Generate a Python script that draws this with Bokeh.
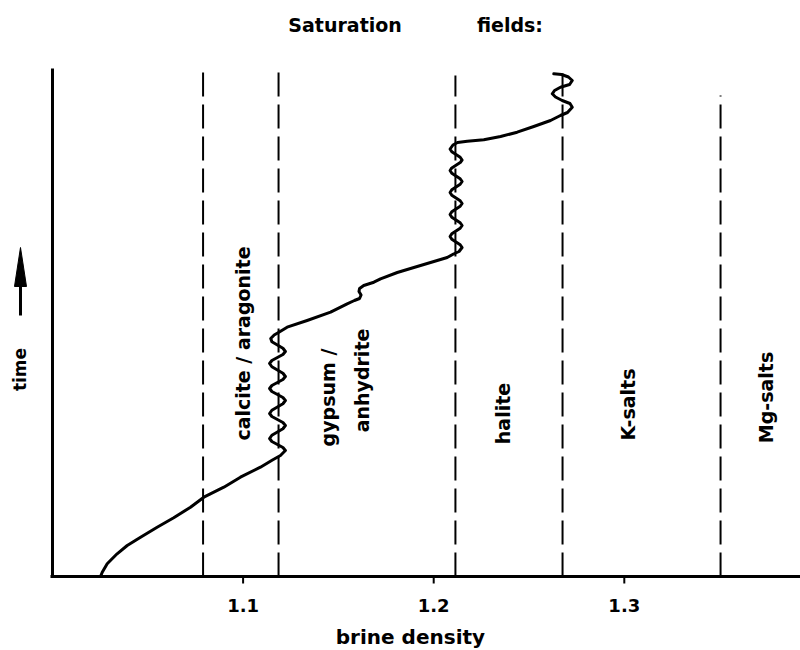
import math
from bokeh.plotting import figure
from bokeh.models import Range1d
from bokeh.core.properties import value
from bokeh.embed import file_html
from bokeh.resources import INLINE

# ---- data ----
# brine evolution curve: density vs. (relative) time
density = [
    1.0252, 1.0261, 1.0287, 1.0339, 1.0392, 1.0462, 1.0549, 1.0636, 1.0724, 1.0794,
    1.0899, 1.0986, 1.1091, 1.1154, 1.1196,
    1.1222, 1.1209, 1.1180, 1.1151, 1.1139, 1.1151, 1.1180, 1.1209,
    1.1222, 1.1209, 1.1180, 1.1151, 1.1139, 1.1151, 1.1180, 1.1209,
    1.1222, 1.1209, 1.1180, 1.1151, 1.1139, 1.1151, 1.1180, 1.1209,
    1.1222, 1.1209, 1.1180, 1.1151, 1.1139, 1.1151, 1.1180, 1.1209,
    1.1222, 1.1209, 1.1180, 1.1151, 1.1145,
    1.1163, 1.1190, 1.1231, 1.1336, 1.1459, 1.1546, 1.1584, 1.1611, 1.1619, 1.1608,
    1.1611, 1.1633, 1.1686, 1.1721, 1.1809, 1.1896, 1.2001, 1.2071, 1.2104, 1.2133,
    1.2149, 1.2139, 1.2117, 1.2095, 1.2086, 1.2095, 1.2117, 1.2139,
    1.2149, 1.2139, 1.2117, 1.2095, 1.2086, 1.2095, 1.2117, 1.2139,
    1.2149, 1.2139, 1.2117, 1.2095, 1.2086, 1.2095, 1.2117, 1.2139,
    1.2149, 1.2139, 1.2117, 1.2095, 1.2086, 1.2095, 1.2117, 1.2139,
    1.2149, 1.2139, 1.2117, 1.2095, 1.2086,
    1.2101, 1.2125, 1.2176, 1.2263, 1.2351, 1.2438, 1.2525, 1.2613, 1.2665,
    1.2702, 1.2727, 1.2715, 1.2674, 1.2639, 1.2622, 1.2634, 1.2665, 1.2713, 1.2727,
    1.2707, 1.2671, 1.2630,
]
time = [
    0, 4.3, 12.7, 22.7, 31, 39.3, 49.3, 58.7, 69.3, 79.3,
    89.3, 99.3, 109.3, 116.5, 121,
    126, 129, 132, 135, 138, 141.25, 144.5, 147.75,
    151, 154, 157, 160, 163, 166.25, 169.5, 172.75,
    176, 179, 182, 185, 188, 191, 194, 197,
    200, 203.25, 206.5, 209.75, 213, 216, 219, 222,
    225, 228.25, 231.5, 234.75, 238,
    241.5, 244.5, 249.3, 256, 264.3, 272.7, 276, 278, 281.5, 285,
    288, 291, 294.3, 297.7, 304, 309, 315, 319, 322.5, 325,
    329, 331.75, 334.5, 337.25, 340, 342.75, 345.5, 348.25,
    351, 353.75, 356.5, 359.25, 362, 364.75, 367.5, 370.25,
    373, 375.75, 378.5, 381.25, 384, 386.75, 389.5, 392.25,
    395, 397.75, 400.5, 403.25, 406, 408.6, 411.25, 413.9,
    416.5, 419.25, 422, 424.75, 427.5,
    431.5, 434, 435.3, 436.7, 440, 444.3, 450, 456, 461,
    464, 469.3, 473, 476, 479.5, 482.7, 486, 489.3, 492, 496,
    499.5, 502, 502.7,
]

# saturation-field boundaries (density) and how high each dashed line reaches
boundaries = [1.079, 1.1186, 1.2114, 1.2676, 1.3505]
boundary_tops = [508, 508, 501, 503, 481]

# field names
zone_names = ["calcite / aragonite", "gypsum /", "anhydrite", "halite", "K-salts", "Mg-salts"]

tick_values = [1.1, 1.2, 1.3]
tick_labels = ["1.1", "1.2", "1.3"]

title_words = ["Saturation", "fields:"]
x_title = "brine density"
y_title = "time"

# ---- layout constants (not data) ----
D_MIN, D_MAX = 0.972718, 1.392446      # visible density span
T_MIN, T_MAX = -74, 576                # visible time span (margins included)
T_TOP = 508                            # top of the time axis
PX_X = (D_MAX - D_MIN) / 800.0         # density per pixel
FONT = "DejaVu Sans"

p = figure(width=800, height=650, output_backend="svg", toolbar_location=None,
           x_range=Range1d(D_MIN, D_MAX), y_range=Range1d(T_MIN, T_MAX),
           min_border=0, min_border_left=0, min_border_right=0,
           min_border_top=0, min_border_bottom=0)
p.axis.visible = False
p.grid.visible = False
p.outline_line_color = None
p.background_fill_color = "white"
p.border_fill_color = "white"

# axes drawn as lines through the plot's scales
p.segment(x0=[1.0, 1.0 - PX_X * 2], y0=[-1.5, 0], x1=[1.0, D_MAX], y1=[T_TOP, 0],
          line_color="black", line_width=3)
p.segment(x0=tick_values, y0=[0] * 3, x1=tick_values, y1=[-7] * 3,
          line_color="black", line_width=2)
p.text(x=tick_values, y=[-29] * 3, text=tick_labels, text_align="center",
       text_baseline="middle", text_font=value(FONT), text_font_style="bold",
       text_font_size="18px", text_color="black")
p.text(x=[1.1878], y=[-60], text=[x_title], text_align="center", text_baseline="middle",
       text_font=value(FONT), text_font_style="bold", text_font_size="20px",
       text_color="black")

# title
p.text(x=[1.1535, 1.2400], y=[552, 552], text=title_words, text_align="center",
       text_baseline="middle", text_font=value(FONT), text_font_style="bold",
       text_font_size="19px", text_color="black")

# time label with arrow
x_time = 1.0 - 32 * PX_X
p.text(x=[x_time], y=[207], text=[y_title], angle=math.pi / 2, text_align="center",
       text_baseline="middle", text_font=value(FONT), text_font_style="bold",
       text_font_size="17px", text_color="black")
p.segment(x0=[x_time], y0=[261], x1=[x_time], y1=[292], line_color="black", line_width=3)
p.patch(x=[x_time, x_time - 6 * PX_X, x_time + 6 * PX_X], y=[329, 290, 290],
        fill_color="black", line_color="black", line_width=1)

# dashed field boundaries
p.segment(x0=boundaries, y0=[0] * len(boundaries), x1=boundaries, y1=boundary_tops,
          line_color="black", line_width=2, line_dash="24 8")

# brine curve
p.line(density, time, line_color="black", line_width=3, line_join="round", line_cap="round")

# field labels (rotated)
label_x = [1.0997, 1.1448, 1.1626, 1.2366, 1.3017, 1.3741]
label_y = [233, 179, 196, 163, 172, 179]
p.text(x=label_x, y=label_y, text=zone_names, angle=math.pi / 2,
       text_align="center", text_baseline="middle",
       text_font=value(FONT), text_font_style="bold", text_font_size="19px",
       text_color="black")

open("out.html", "w").write(file_html(p, INLINE))
